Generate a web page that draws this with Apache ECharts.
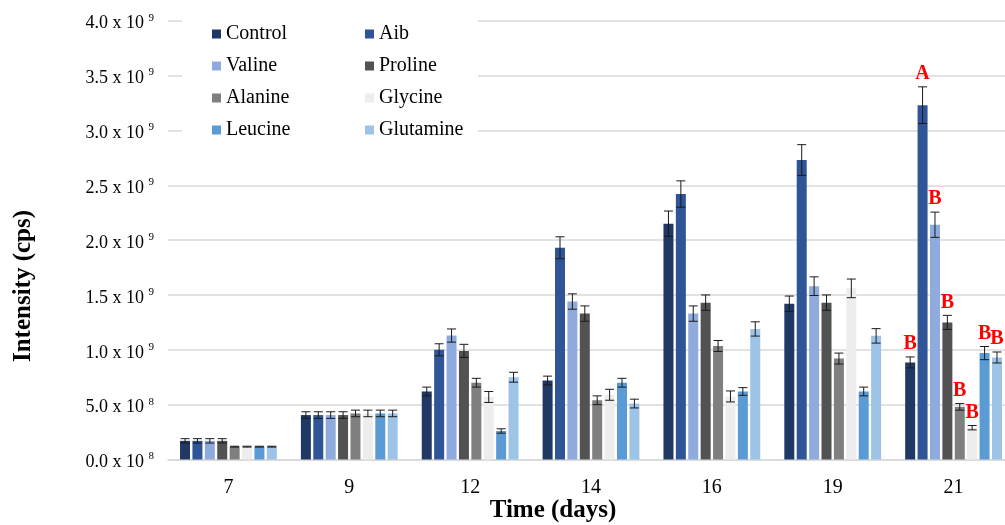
<!DOCTYPE html>
<html>
<head>
<meta charset="utf-8">
<script src="https://cdn.jsdelivr.net/npm/echarts@6/dist/echarts.min.js"></script>
<style>
  html, body {margin: 0; padding: 0; background: #fff;}
  #main {width: 1005px; height: 525px;}
</style>
</head>
<body>
<div id="main"></div>
<script>
// values in units of 10^9 cps
const days = ['7', '9', '12', '14', '16', '19', '21'];
const names = ['Control', 'Aib', 'Valine', 'Proline', 'Alanine', 'Glycine', 'Leucine', 'Glutamine'];
const colors = ['#203864', '#2F5597', '#8FAADC', '#525252', '#7F7F7F', '#EDEDED', '#5B9BD5', '#9DC3E6'];

const control = [0.17, 0.405, 0.62, 0.72, 2.15, 1.42, 0.885];
const aib = [0.17, 0.405, 1.00, 1.93, 2.42, 2.73, 3.23];
const valine = [0.17, 0.405, 1.13, 1.44, 1.33, 1.58, 2.14];
const proline = [0.17, 0.405, 0.99, 1.33, 1.43, 1.43, 1.25];
const alanine = [0.117, 0.42, 0.70, 0.54, 1.035, 0.92, 0.48];
const glycine = [0.117, 0.42, 0.57, 0.59, 0.575, 1.56, 0.29];
const leucine = [0.117, 0.42, 0.26, 0.70, 0.62, 0.62, 0.97];
const glutamine = [0.117, 0.42, 0.75, 0.51, 1.19, 1.127, 0.93];

const controlErr = [0.02, 0.03, 0.04, 0.04, 0.115, 0.07, 0.05];
const aibErr = [0.02, 0.03, 0.055, 0.1, 0.12, 0.14, 0.167];
const valineErr = [0.02, 0.03, 0.06, 0.07, 0.07, 0.085, 0.115];
const prolineErr = [0.02, 0.03, 0.06, 0.07, 0.07, 0.07, 0.064];
const alanineErr = [0.004, 0.03, 0.04, 0.04, 0.05, 0.05, 0.03];
const glycineErr = [0.004, 0.03, 0.05, 0.05, 0.05, 0.085, 0.02];
const leucineErr = [0.004, 0.03, 0.02, 0.04, 0.035, 0.04, 0.06];
const glutamineErr = [0.004, 0.03, 0.045, 0.04, 0.065, 0.066, 0.05];

// significance letters on day 21
const letters21 = ['B', 'A', 'B', 'B', 'B', 'B', 'B', 'B'];

const yTicks = [0, 0.5, 1, 1.5, 2, 2.5, 3, 3.5, 4];

const values = [control, aib, valine, proline, alanine, glycine, leucine, glutamine];
const errors = [controlErr, aibErr, valineErr, prolineErr, alanineErr, glycineErr, leucineErr, glutamineErr];

const serif = '"Liberation Serif", "Times New Roman", serif';
const barW = 10;
const pitch = 12.4;

const errData = [];
values.forEach((vals, s) => {
  vals.forEach((v, c) => {
    errData.push([c, s, v, errors[s][c], c === days.length - 1 ? letters21[s] : '']);
  });
});

const chart = echarts.init(document.getElementById('main'));

chart.setOption({
  animation: false,
  grid: {left: 168, width: 846, top: 20.7, height: 438.8, outerBoundsMode: 'none', containLabel: false},
  xAxis: {
    type: 'category',
    data: days,
    axisTick: {show: false},
    axisLine: {lineStyle: {color: '#D9D9D9', width: 1.5}},
    axisLabel: {fontFamily: serif, fontSize: 20, color: '#000', margin: 18}
  },
  yAxis: {
    type: 'value',
    min: yTicks[0],
    max: yTicks[yTicks.length - 1],
    interval: 0.5,
    splitLine: {lineStyle: {color: '#D9D9D9', width: 1.5}},
    axisLabel: {
      margin: 14,
      formatter(v) {
        if (v < 1) return '{a|' + (v * 10).toFixed(1) + ' x 10 }{s|8}';
        return '{a|' + v.toFixed(1) + ' x 10 }{s|9}';
      },
      rich: {
        a: {fontFamily: serif, fontSize: 18, color: '#000', padding: [6, 0, 0, 0]},
        s: {fontFamily: serif, fontSize: 11, color: '#000', padding: [0, 0, 6, 0]}
      }
    }
  },
  legend: [
    {
      data: [names[0], names[2], names[4], names[6]],
      orient: 'vertical', left: 212, top: 23, padding: 0,
      itemWidth: 9, itemHeight: 9, itemGap: 10, icon: 'rect',
      textStyle: {fontFamily: serif, fontSize: 20, color: '#000', lineHeight: 22}
    },
    {
      data: [names[1], names[3], names[5], names[7]],
      orient: 'vertical', left: 365, top: 23, padding: 0,
      itemWidth: 9, itemHeight: 9, itemGap: 10, icon: 'rect',
      textStyle: {fontFamily: serif, fontSize: 20, color: '#000', lineHeight: 22}
    }
  ],
  graphic: [
    {type: 'rect', z: 1, shape: {x: 182, y: 8, width: 296, height: 138}, style: {fill: '#fff'}},
    {
      type: 'text', x: 24, y: 286, rotation: Math.PI / 2,
      style: {text: 'Intensity (cps)', font: 'bold 25px ' + serif, fill: '#000', align: 'center', verticalAlign: 'middle'}
    },
    {
      type: 'text', x: 553, y: 511,
      style: {text: 'Time (days)', font: 'bold 25px ' + serif, fill: '#000', align: 'center', verticalAlign: 'middle'}
    }
  ],
  series: names.map((n, i) => ({
    name: n,
    type: 'bar',
    data: values[i],
    barWidth: barW,
    barGap: '24%',
    itemStyle: {color: colors[i]}
  })).concat([{
    type: 'custom',
    z: 5,
    data: errData,
    renderItem(params, api) {
      const c = api.value(0), s = api.value(1), v = api.value(2), e = api.value(3);
      const letter = errData[params.dataIndex][4];
      const x = api.coord([c, 0])[0] + (s - 3.5) * pitch;
      const yTop = api.coord([c, v + e])[1];
      const yBot = api.coord([c, v - e])[1];
      const style = {stroke: '#1a1a1a', lineWidth: 1};
      const hw = 4.5;
      const children = [
        {type: 'line', shape: {x1: x, y1: yTop, x2: x, y2: yBot}, style},
        {type: 'line', shape: {x1: x - hw, y1: yTop, x2: x + hw, y2: yTop}, style},
        {type: 'line', shape: {x1: x - hw, y1: yBot, x2: x + hw, y2: yBot}, style}
      ];
      if (letter) {
        children.push({
          type: 'text',
          style: {text: letter, x: x, y: yTop - 3, fill: '#FF0000', font: 'bold 20px ' + serif, align: 'center', verticalAlign: 'bottom'}
        });
      }
      return {type: 'group', children};
    }
  }])
});
</script>
</body>
</html>
